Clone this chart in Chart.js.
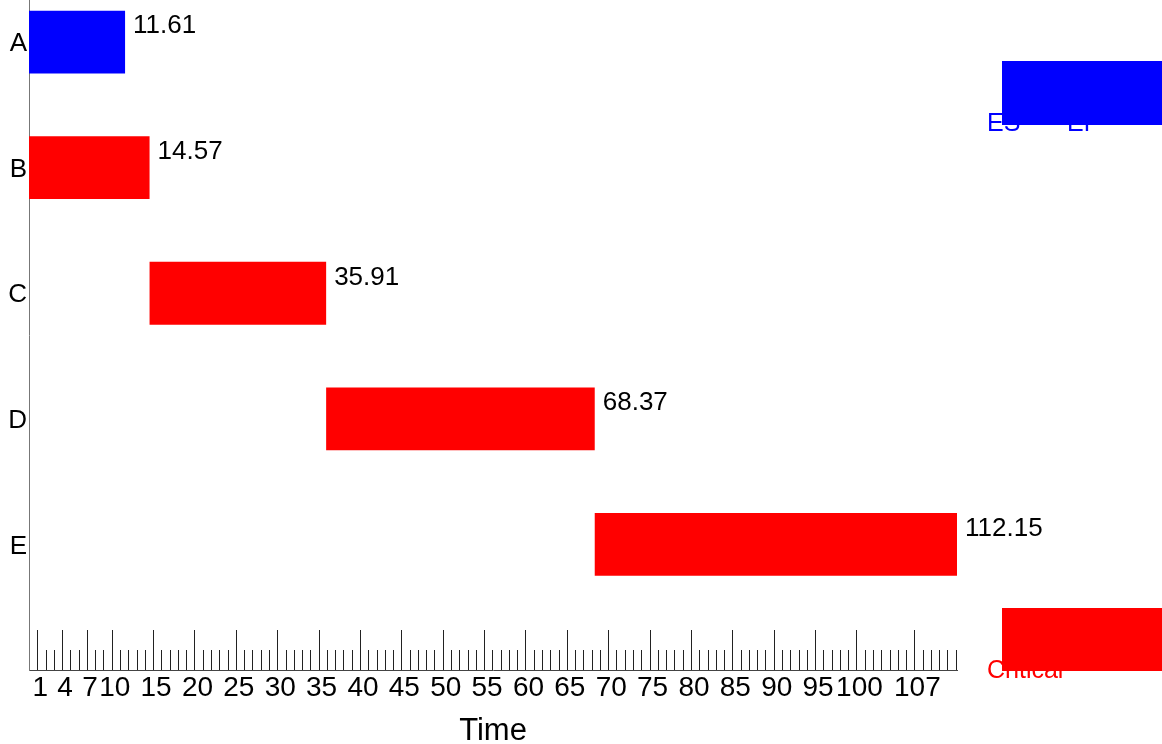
<!DOCTYPE html>
<html>
<head>
<meta charset="utf-8">
<script src="https://cdn.jsdelivr.net/npm/chart.js@4/dist/chart.umd.min.js"></script>
<style>
  html, body { margin: 0; padding: 0; background: #fff; }
  #wrap { width: 1162px; height: 744px; position: relative; }
</style>
</head>
<body>
<div id="wrap"><canvas id="c"></canvas></div>
<script>
// ---- data ----
const categories = ['A', 'B', 'C', 'D', 'E'];
const startTimes = [0, 0, 14.57, 35.91, 68.37];
const endTimes   = [11.61, 14.57, 35.91, 68.37, 112.15];
const isCritical = [false, true, true, true, true];
const xTickLabels = [1, 4, 7, 10, 15, 20, 25, 30, 35, 40, 45, 50, 55, 60, 65, 70, 75, 80, 85, 90, 95, 100, 107];
const xRulerMax = 112;
const legendItems = ['ES', 'EF', 'Critical'];

const FONT = '"Liberation Sans", Arial, sans-serif';
const BLUE = '#0000ff';
const RED = '#ff0000';

const barData = categories.map((c, i) => ({ x: [startTimes[i], endTimes[i]], y: i }));

const noPad = s => { s.paddingTop = 0; s.paddingBottom = 0; s.paddingLeft = 0; s.paddingRight = 0; };

// ruler ticks drawn upward from the x axis, positioned by the x scale
const rulerPlugin = {
  id: 'ruler',
  afterDraw(chart) {
    const ctx = chart.ctx;
    const xs = chart.scales.x;
    const base = chart.chartArea.bottom;
    ctx.save();
    ctx.lineWidth = 1;
    ctx.strokeStyle = '#222';
    for (let v = 1; v <= xRulerMax; v++) {
      const px = Math.round(xs.getPixelForValue(v)) + 0.5;
      const len = xTickLabels.includes(v) ? 40 : 20;
      ctx.beginPath();
      ctx.moveTo(px, base);
      ctx.lineTo(px, base - len);
      ctx.stroke();
    }
    ctx.restore();
  }
};

// end-value labels next to each bar
const valueLabelPlugin = {
  id: 'valueLabels',
  afterDatasetsDraw(chart) {
    const ctx = chart.ctx;
    const meta = chart.getDatasetMeta(0);
    ctx.save();
    ctx.font = '26px ' + FONT;
    ctx.fillStyle = '#000';
    ctx.textAlign = 'left';
    ctx.textBaseline = 'middle';
    meta.data.forEach((bar, i) => {
      const top = bar.y - bar.height / 2;
      ctx.fillText(endTimes[i].toFixed(2), bar.x + 8, top + 15.5);
    });
    ctx.restore();
  }
};

// the odd legend on the right side
const legendPlugin = {
  id: 'oddLegend',
  afterDraw(chart) {
    const ctx = chart.ctx;
    const r = chart.chartArea.right;
    const b = chart.chartArea.bottom;
    ctx.save();
    ctx.font = '25px ' + FONT;
    ctx.textAlign = 'left';
    ctx.textBaseline = 'alphabetic';
    ctx.fillStyle = BLUE;
    ctx.fillText(legendItems[0], r + 30, 131);
    ctx.fillText(legendItems[1], r + 110, 131);
    ctx.fillStyle = RED;
    ctx.fillText(legendItems[2], r + 30, b + 8);
    ctx.fillStyle = BLUE;
    ctx.fillRect(r + 45, 61, 220, 64);
    ctx.fillStyle = RED;
    ctx.fillRect(r + 45, b - 62, 220, 63);
    ctx.restore();
  }
};

new Chart(document.getElementById('c'), {
  type: 'bar',
  data: {
    datasets: [{
      label: 'Tasks',
      data: barData,
      backgroundColor: isCritical.map(c => c ? RED : BLUE),
      borderWidth: 0,
      barPercentage: 0.5,
      categoryPercentage: 1.0
    }]
  },
  options: {
    indexAxis: 'y',
    responsive: true,
    maintainAspectRatio: false,
    animation: false,
    layout: { padding: { left: 0, top: 0, right: 205, bottom: 0 } },
    plugins: {
      legend: { display: false },
      tooltip: { enabled: false },
      title: { display: false }
    },
    scales: {
      x: {
        type: 'linear',
        position: 'bottom',
        bounds: 'data',
        offset: false,
        min: 0,
        max: 112.15,
        afterBuildTicks: s => { s.ticks = xTickLabels.map(v => ({ value: v })); },
        afterFit: s => { s.height = 74; noPad(s); },
        grid: { display: true, drawOnChartArea: false, drawTicks: false, offset: false },
        border: { display: true, color: '#444', width: 1 },
        ticks: {
          autoSkip: false,
          maxRotation: 0,
          minRotation: 0,
          padding: 1,
          labelOffset: 3,
          color: '#000',
          font: { family: FONT, size: 28 },
          callback: v => String(v)
        },
        title: {
          display: true,
          text: 'Time',
          color: '#000',
          font: { family: FONT, size: 31, lineHeight: 1 },
          padding: { top: 0, bottom: -3 }
        }
      },
      y: {
        type: 'linear',
        position: 'left',
        reverse: true,
        bounds: 'data',
        offset: false,
        min: -0.335,
        max: 5,
        afterBuildTicks: s => { s.ticks = categories.map((c, i) => ({ value: i })); },
        afterFit: s => { s.width = 29; noPad(s); },
        grid: { display: true, drawOnChartArea: false, drawTicks: false, offset: false },
        border: { display: true, color: '#777', width: 1 },
        ticks: {
          padding: 2,
          labelOffset: 2,
          color: '#000',
          font: { family: FONT, size: 26 },
          callback: v => categories[v] !== undefined ? categories[v] : ''
        }
      }
    }
  },
  plugins: [rulerPlugin, valueLabelPlugin, legendPlugin]
});
</script>
</body>
</html>
